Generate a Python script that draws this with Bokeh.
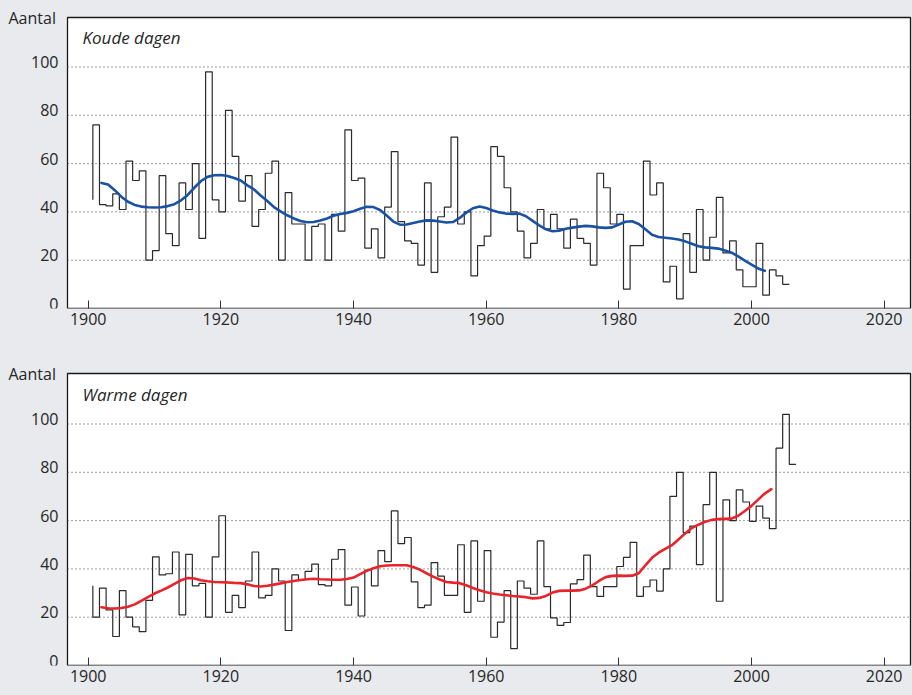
import numpy as np
from bokeh.plotting import figure
from bokeh.layouts import column
from bokeh.models import Range1d, FixedTicker
from bokeh.core.properties import value
from bokeh.embed import file_html
from bokeh.resources import INLINE

# ---------------- data ----------------
years_koude = list(range(1900, 2006))
koude = [45,
         76, 43, 42.5, 47.5, 41, 61, 53, 57, 20, 24,
         55, 31, 26, 52, 41, 60, 29, 98, 45, 40,
         82, 63, 44.5, 55, 34, 41, 56, 61, 20, 48,
         35, 35, 20, 34, 35, 20, 39, 32, 74, 53,
         54, 25, 33, 21, 42, 65, 36, 28, 27, 18,
         52, 15, 38, 42, 71, 35, 40, 13.5, 26, 30,
         67, 63, 50, 40, 32, 21, 27, 41, 33, 39,
         33, 25, 37, 29, 27, 18, 56, 50, 35, 39,
         8, 26, 26, 61, 47, 52, 11, 17.5, 4, 31,
         15, 41, 20, 29.5, 46, 23, 28, 16, 9, 9,
         27, 5.5, 16, 13.5, 10]

years_warm = list(range(1900, 2007))
warm = [33,
        20, 32, 23, 12, 31, 20, 16, 14, 27, 45,
        37.5, 38, 47, 21, 46, 33, 34, 20, 45, 62,
        22, 29, 24, 35, 47, 28, 29, 40, 35, 14.5,
        37.5, 35.5, 39, 42, 33.5, 33, 44, 48, 25, 32.5,
        20.5, 39.5, 33, 47.6, 43, 64, 50.5, 53, 34.6, 24,
        25, 42.6, 37, 29, 29, 50, 22, 51.6, 26.6, 47.6,
        11.7, 18, 31, 7, 35, 32, 29.5, 51.6, 32.7, 19.7,
        16.6, 17.8, 33.8, 35.6, 45.7, 32.7, 28.6, 32.7, 32.7, 41,
        44.8, 51, 28.6, 32.6, 35.4, 30.8, 40, 70, 80, 55,
        57.7, 41.8, 66.6, 80, 26.6, 68.6, 60, 72.7, 67.7, 59.7,
        66, 61, 56.7, 90, 104, 83.3]

smooth_koude_years = list(range(1902, 2003))
smooth_koude = [52.0, 51.3, 49.0, 46.3, 44.2, 42.9, 42.2, 41.9, 41.8,
                41.9, 42.4, 43.2, 44.8, 47.0, 50.0, 52.8, 54.5, 55.2, 55.3,
                54.9, 54.0, 53.0, 51.0, 49.3, 46.8, 44.5, 42.0, 40.2, 38.6,
                37.3, 36.2, 35.7, 35.8, 36.4, 37.3, 38.4, 39.1, 39.6, 40.3,
                41.3, 42.1, 42.0, 40.8, 38.5, 36.0, 34.7, 34.8, 35.4, 36.0,
                36.5, 36.4, 36.0, 35.6, 35.8, 37.5, 39.7, 41.5, 42.2, 41.6,
                40.6, 39.8, 39.3, 39.2, 39.3, 38.2, 36.3, 34.4, 32.8, 32.0,
                32.2, 33.0, 33.5, 33.9, 34.2, 34.0, 33.6, 33.4, 33.6, 34.8,
                35.9, 36.1, 35.0, 32.8, 30.5, 29.6, 29.3, 29.0, 28.6, 27.8,
                26.8, 25.8, 25.3, 25.1, 24.8, 24.0, 23.1, 21.6, 19.8, 18.2,
                16.6, 15.6]

smooth_warm_years = list(range(1902, 2004))
smooth_warm = [24.1, 23.7, 23.6, 23.8, 24.3, 25.3, 26.8, 28.3, 29.8,
               31.0, 32.3, 33.8, 35.3, 36.2, 36.0, 35.3, 34.9, 34.6, 34.5,
               34.4, 34.2, 34.1, 33.6, 32.9, 32.7, 33.0, 33.5, 34.0, 34.6,
               35.0, 35.4, 35.7, 35.9, 35.7, 35.6, 35.5, 35.5, 35.8, 36.4,
               37.8, 39.2, 40.3, 41.1, 41.4, 41.5, 41.5, 41.5, 40.8, 39.7,
               38.2, 36.8, 35.6, 34.6, 34.3, 34.1, 33.2, 32.1, 31.2, 30.3,
               29.8, 29.4, 29.1, 28.8, 28.6, 28.3, 27.8, 28.0, 28.8, 30.2,
               30.9, 31.0, 31.0, 31.1, 31.8, 33.2, 35.0, 36.6, 37.1, 37.2,
               37.1, 37.2, 38.2, 41.5, 44.6, 46.7, 48.3, 49.8, 52.2, 54.7,
               56.9, 58.3, 59.5, 60.3, 60.6, 60.7, 60.8, 62.0, 64.0, 66.1,
               68.7, 71.2, 73.0]

x_ticks = [1900, 1920, 1940, 1960, 1980, 2000, 2020]
y_ticks = [0, 20, 40, 60, 80, 100]
y_tick_labels = ["0", "20", "40", "60", "80", "100"]
grid_values = [20, 40, 60, 80, 100]

# ---------------- styling / layout ----------------
FONT = "Open Sans"
TXT = "#262626"
BG = "#e8eaed"
PX_PER_YEAR = 6.633           # 1900 at x=87.7 px, 2000 at x=751 px
VIEW_X0 = 1900 - 87.7 / PX_PER_YEAR
VIEW_X1 = VIEW_X0 + 912 / PX_PER_YEAR
BOX_X0 = VIEW_X0 + 67 / PX_PER_YEAR     # plot box from x=67 ...
BOX_X1 = VIEW_X0 + 910 / PX_PER_YEAR    # ... to x=910
PX_PER_UNIT = 2.415


def make_panel(title, yrs, vals, syrs, svals, color, height, frame_h, bottom, box_top_px, title_dy):
    view_top = frame_h / PX_PER_UNIT
    box_top = (frame_h - box_top_px) / PX_PER_UNIT
    p = figure(width=912, height=height,
               x_range=Range1d(VIEW_X0, VIEW_X1), y_range=Range1d(0, view_top),
               output_backend="svg", toolbar_location=None, y_axis_location=None,
               min_border_left=0, min_border_right=0,
               min_border_top=0, min_border_bottom=bottom)
    p.background_fill_color = BG
    p.border_fill_color = BG
    p.outline_line_color = None
    p.grid.visible = False

    # white plot box with black frame
    p.quad(left=BOX_X0, right=BOX_X1, bottom=0, top=box_top,
           fill_color="white", line_color="#1a1a1a", line_width=1.3)

    # dotted horizontal grid lines
    p.segment(x0=[BOX_X0] * len(grid_values), x1=[BOX_X1] * len(grid_values),
              y0=grid_values, y1=grid_values,
              line_color="#3a3a3a", line_width=1, line_dash="1 3")

    p.xaxis.ticker = FixedTicker(ticks=x_ticks)
    p.xaxis.major_tick_in = 8
    p.xaxis.major_tick_out = 0
    p.xaxis.minor_tick_line_color = None
    p.xaxis.major_tick_line_color = "#333333"
    p.xaxis.axis_line_color = None
    p.xaxis.major_label_text_font = FONT
    p.xaxis.major_label_text_font_size = "16px"
    p.xaxis.major_label_text_color = TXT
    p.xaxis.major_label_standoff = 4

    # y tick labels sitting just above their tick value
    p.text(x=[BOX_X0] * len(y_ticks), y=y_ticks, text=y_tick_labels,
           x_offset=-9, y_offset=-5, text_align="right", text_baseline="middle",
           text_font=value(FONT), text_font_size="16px", text_color=TXT)

    p.text(x=[BOX_X0], y=[box_top], text=["Aantal"], x_offset=-59, y_offset=0,
           text_align="left", text_baseline="middle",
           text_font=value(FONT), text_font_size="16px", text_color=TXT)
    p.text(x=[BOX_X0], y=[box_top], text=[title], x_offset=15, y_offset=title_dy,
           text_align="left", text_baseline="middle",
           text_font=value(FONT), text_font_style="italic",
           text_font_size="17px", text_color=TXT)

    xs = np.array(yrs, dtype=float) + 0.7
    p.step(x=xs, y=vals, mode="before", line_color="#2a2a2a", line_width=1.2)
    p.line(syrs, svals, line_color=color, line_width=2.6, line_join="round", line_cap="round")
    return p


# top panel: figure 0..340 px, box from y=17 to y=308
p1 = make_panel("Koude dagen", years_koude, koude, smooth_koude_years, smooth_koude,
                "#1a52a3", 340, 308, 32, 17, 19.5)
# bottom panel: figure 340..695 px, box from y=373 to y=665
p2 = make_panel("Warme dagen", years_warm, warm, smooth_warm_years, smooth_warm,
                "#e8232b", 355, 325, 30, 33, 20.5)

layout = column(p1, p2, spacing=0, styles={"background-color": BG})
open("out.html", "w").write(file_html(layout, INLINE))
